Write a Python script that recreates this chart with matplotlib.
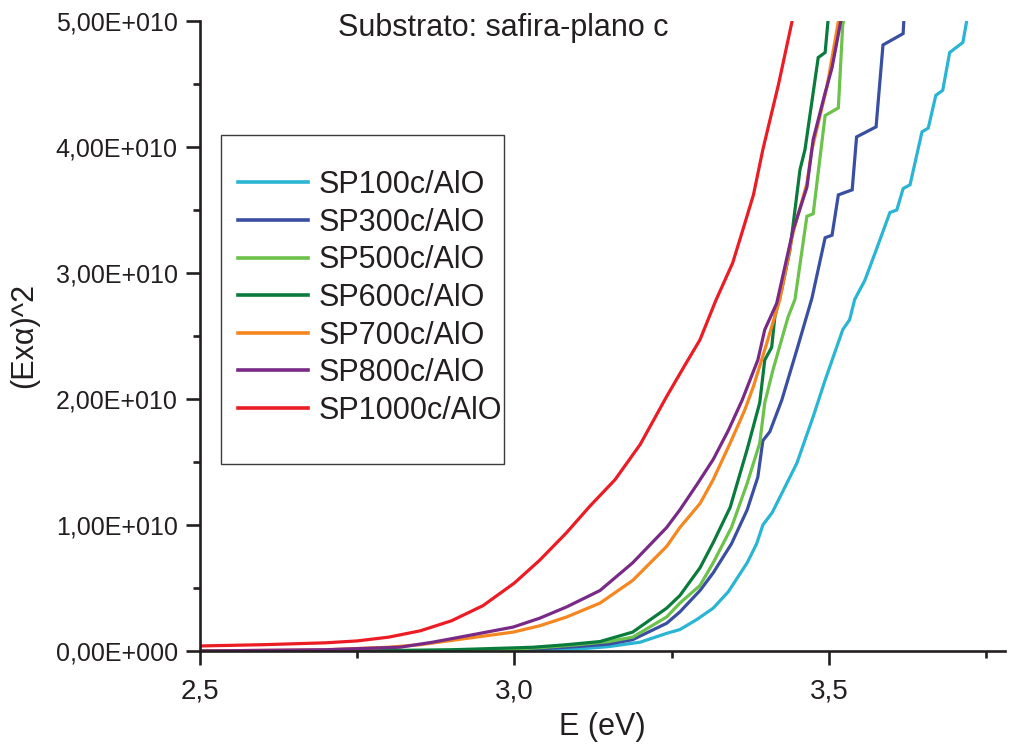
import matplotlib
matplotlib.use("Agg")
import matplotlib.pyplot as plt
from matplotlib.ticker import FixedLocator, FuncFormatter
from matplotlib.patches import Rectangle

plt.rcParams['font.family'] = ['Liberation Sans', 'DejaVu Sans']

SCALE = 1e10

labels = ["SP100c/AlO", "SP300c/AlO", "SP500c/AlO", "SP600c/AlO",
          "SP700c/AlO", "SP800c/AlO", "SP1000c/AlO"]
colors = ["#29b5d3", "#3a4fa1", "#6cc24a", "#0a7b3c", "#f6861f", "#782a86", "#ec1c24"]

# Photon energy (eV) and (E*alpha)^2 in units of 1e10
e_sp100 = [2.50, 2.80, 3.00, 3.10, 3.15, 3.20, 3.242, 3.263, 3.29, 3.316, 3.34, 3.37,
           3.385, 3.395, 3.41, 3.422, 3.449, 3.475, 3.494, 3.522, 3.533, 3.541, 3.557,
           3.575, 3.597, 3.608, 3.618, 3.629, 3.648, 3.658, 3.670, 3.681, 3.692, 3.713, 3.722]
v_sp100 = [0.0, 0.0, 0.005, 0.015, 0.035, 0.07, 0.14, 0.17, 0.25, 0.34, 0.47, 0.70,
           0.85, 1.00, 1.10, 1.22, 1.49, 1.86, 2.15, 2.55, 2.63, 2.79, 2.94,
           3.18, 3.48, 3.50, 3.67, 3.70, 4.12, 4.15, 4.41, 4.45, 4.75, 4.83, 5.08]

e_sp300 = [2.50, 2.90, 3.00, 3.05, 3.10, 3.15, 3.188, 3.242, 3.263, 3.295, 3.316, 3.345,
           3.370, 3.387, 3.395, 3.406, 3.425, 3.449, 3.473, 3.494, 3.505, 3.515, 3.537,
           3.544, 3.575, 3.586, 3.618, 3.620]
v_sp300 = [0.0, 0.003, 0.01, 0.02, 0.035, 0.055, 0.09, 0.22, 0.31, 0.48, 0.62, 0.85,
           1.12, 1.38, 1.67, 1.74, 1.99, 2.39, 2.80, 3.28, 3.30, 3.62, 3.66,
           4.08, 4.16, 4.81, 4.90, 5.08]

e_sp500 = [2.50, 2.90, 3.00, 3.05, 3.10, 3.15, 3.188, 3.242, 3.263, 3.295, 3.316, 3.345,
           3.370, 3.390, 3.398, 3.411, 3.435, 3.446, 3.465, 3.475, 3.494, 3.515, 3.522, 3.527]
v_sp500 = [0.0, 0.005, 0.015, 0.03, 0.05, 0.075, 0.11, 0.27, 0.38, 0.52, 0.70, 0.98,
           1.33, 1.65, 1.97, 2.23, 2.65, 2.79, 3.45, 3.47, 4.25, 4.31, 4.97, 5.08]

e_sp600 = [2.50, 2.80, 2.90, 3.00, 3.03, 3.083, 3.136, 3.188, 3.242, 3.263, 3.295, 3.316,
           3.343, 3.370, 3.390, 3.398, 3.409, 3.414, 3.425, 3.438, 3.454, 3.462, 3.483,
           3.494, 3.500]
v_sp600 = [0.0, 0.003, 0.01, 0.025, 0.03, 0.05, 0.075, 0.15, 0.34, 0.44, 0.66, 0.86,
           1.14, 1.60, 1.97, 2.31, 2.41, 2.65, 2.87, 3.18, 3.82, 3.98, 4.71,
           4.75, 5.08]

e_sp700 = [2.50, 2.70, 2.80, 2.85, 2.924, 2.998, 3.04, 3.083, 3.136, 3.188, 3.242, 3.263,
           3.295, 3.316, 3.343, 3.366, 3.380, 3.401, 3.422, 3.443, 3.465, 3.473, 3.497, 3.518]
v_sp700 = [0.0, 0.01, 0.03, 0.05, 0.10, 0.15, 0.20, 0.27, 0.38, 0.56, 0.83, 0.98,
           1.17, 1.36, 1.65, 1.91, 2.10, 2.44, 2.79, 3.32, 3.71, 3.98, 4.48, 5.08]

e_sp800 = [2.50, 2.70, 2.818, 2.87, 2.924, 2.998, 3.04, 3.083, 3.136, 3.188, 3.242, 3.263,
           3.290, 3.316, 3.340, 3.362, 3.387, 3.398, 3.417, 3.443, 3.465, 3.475, 3.494,
           3.505, 3.522]
v_sp800 = [0.0, 0.01, 0.03, 0.07, 0.12, 0.19, 0.26, 0.35, 0.48, 0.70, 0.98, 1.12,
           1.32, 1.52, 1.75, 1.99, 2.31, 2.55, 2.76, 3.34, 3.68, 4.06, 4.43,
           4.63, 5.08]

e_sp1000 = [2.50, 2.60, 2.70, 2.75, 2.80, 2.85, 2.90, 2.95, 3.00, 3.04, 3.083, 3.12,
            3.16, 3.20, 3.242, 3.27, 3.295, 3.32, 3.347, 3.363, 3.380, 3.395, 3.42, 3.445]
v_sp1000 = [0.04, 0.05, 0.065, 0.08, 0.11, 0.16, 0.24, 0.36, 0.54, 0.72, 0.94, 1.15,
            1.36, 1.64, 2.02, 2.26, 2.47, 2.78, 3.08, 3.34, 3.62, 3.98, 4.50, 5.08]

energies = [e_sp100, e_sp300, e_sp500, e_sp600, e_sp700, e_sp800, e_sp1000]
values = [v_sp100, v_sp300, v_sp500, v_sp600, v_sp700, v_sp800, v_sp1000]

x_major = [2.5, 3.0, 3.5]
x_minor = [2.75, 3.25, 3.75]
y_major = [0, 1, 2, 3, 4, 5]
y_minor = [0.5, 1.5, 2.5, 3.5, 4.5]

fig = plt.figure(figsize=(10.10, 7.47), dpi=100)
ax = fig.add_axes([200 / 1010, 1 - 651 / 747, 805 / 1010, 630 / 747])

for e, v, c, lab in zip(energies, values, colors, labels):
    ax.plot(e, [val * SCALE for val in v], color=c, lw=2.3, label=lab,
            solid_joinstyle='miter')

ax.set_xlim(2.5, 3.78)
ax.set_ylim(0, 5 * SCALE)

for side in ("top", "right"):
    ax.spines[side].set_visible(False)
for side in ("left", "bottom"):
    ax.spines[side].set_linewidth(1.9)
    ax.spines[side].set_color("#231f20")

ax.xaxis.set_major_locator(FixedLocator(x_major))
ax.xaxis.set_minor_locator(FixedLocator(x_minor))
ax.yaxis.set_major_locator(FixedLocator([t * SCALE for t in y_major]))
ax.yaxis.set_minor_locator(FixedLocator([t * SCALE for t in y_minor]))


def sci_label(val, pos=None):
    if val == 0:
        return "0,00E+000"
    mant, exp = f"{val:.2E}".split("E")
    return f"{mant.replace('.', ',')}E{int(exp):+04d}"


ax.xaxis.set_major_formatter(FuncFormatter(lambda v, p: f"{v:.1f}".replace(".", ",")))
ax.yaxis.set_major_formatter(FuncFormatter(sci_label))

ax.tick_params(which="major", direction="out", length=10, width=1.9,
               color="#231f20", labelcolor="#231f20")
ax.tick_params(which="minor", direction="out", length=5, width=1.9, color="#231f20")
ax.tick_params(axis="y", which="major", labelsize=18, pad=6)
ax.tick_params(axis="x", which="major", labelsize=20, pad=10)

ax.set_xlabel("E (eV)", fontsize=22, color="#231f20", labelpad=5)
ax.set_ylabel("(Exα)^2", fontsize=22, color="#231f20", labelpad=12)

fig.text(503 / 1010, 1 - 28 / 747, "Substrato: safira-plano c", fontsize=22,
         color="#231f20", ha="center", va="center")

# Legend frame drawn as a fixed box, entries placed inside it
ax.add_patch(Rectangle((21 / 805, (651 - 464) / 630), 283 / 805, 329 / 630,
                       transform=ax.transAxes, fill=False, edgecolor="#3c3c3c",
                       lw=1.0, zorder=5))
leg = ax.legend(loc="upper left", bbox_to_anchor=(38 / 805, (651 - 170) / 630),
                frameon=False, fontsize=22, handlelength=2.3, handletextpad=0.33,
                labelspacing=0.25, borderpad=0, borderaxespad=0)
for t in leg.get_texts():
    t.set_color("#231f20")
for h in leg.get_lines():
    h.set_linewidth(2.6)

fig.savefig("out.png", dpi=100)
